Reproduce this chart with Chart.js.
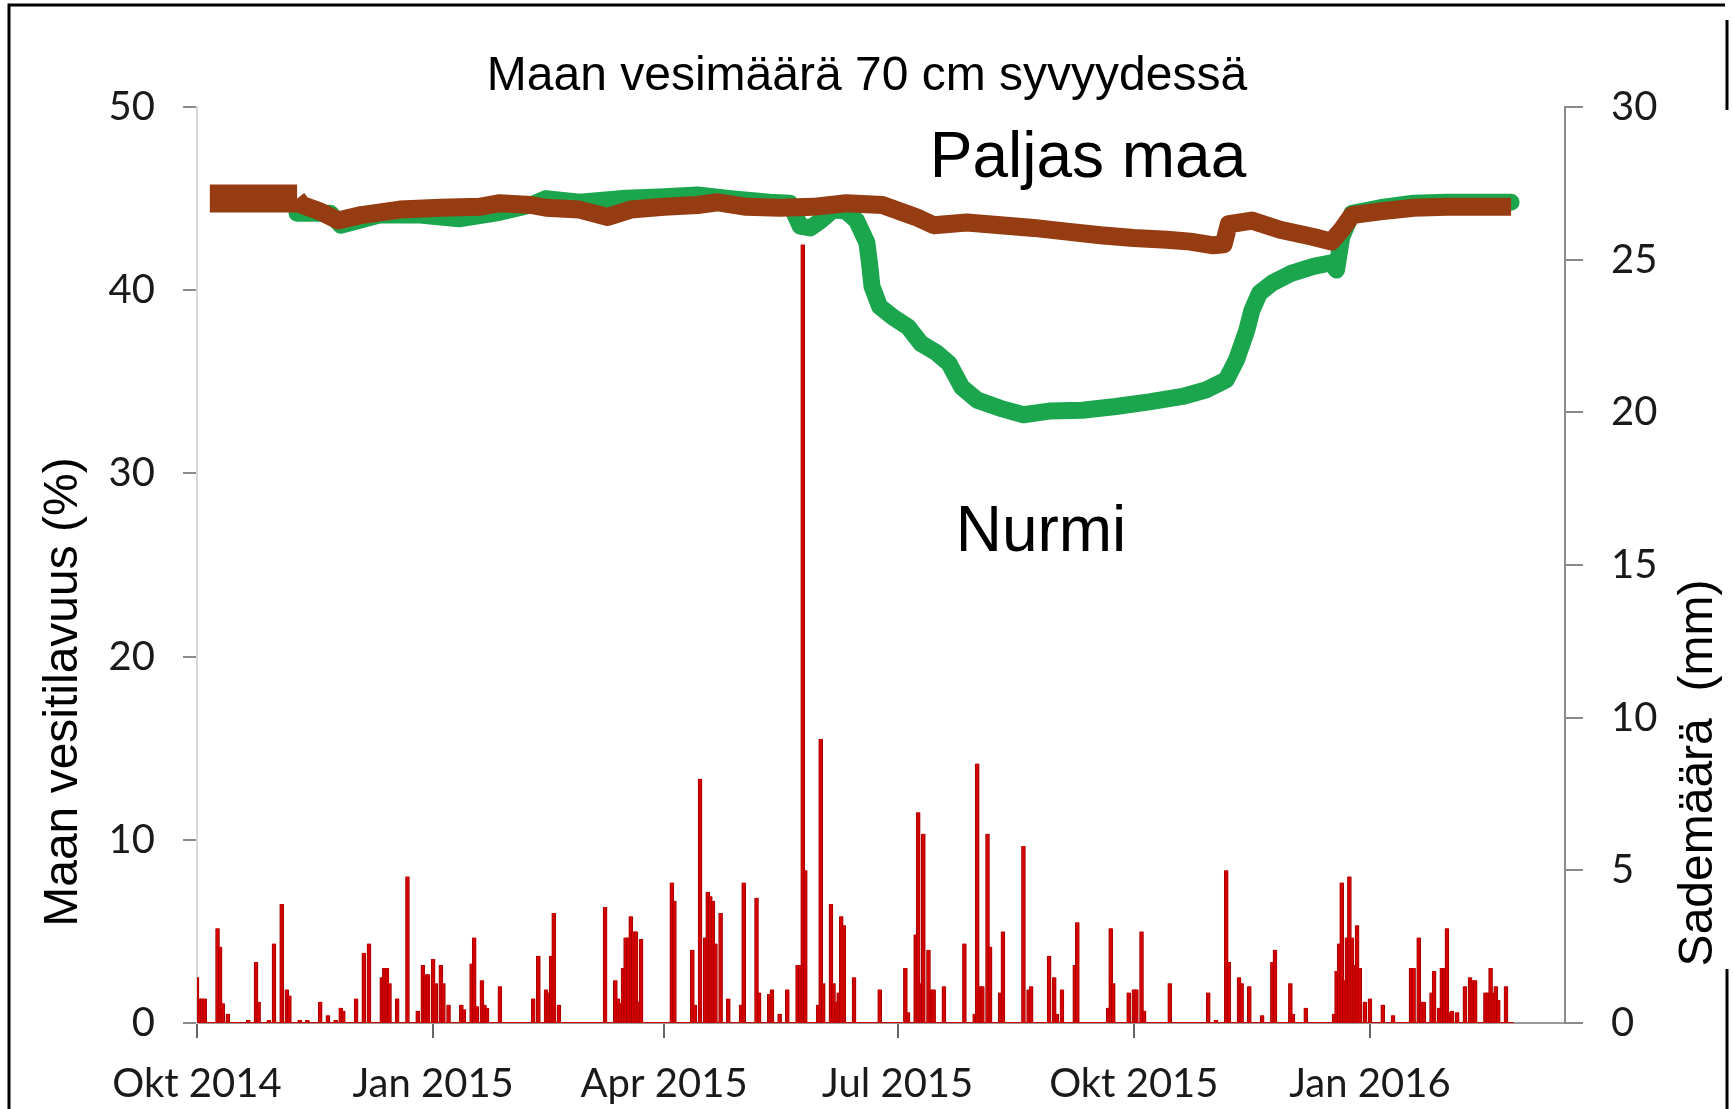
<!DOCTYPE html>
<html>
<head>
<meta charset="utf-8">
<script src="https://cdn.jsdelivr.net/npm/chart.js@4.4.1/dist/chart.umd.min.js"></script>
<style>
  html, body { margin: 0; padding: 0; background: #ffffff; }
  #wrap { width: 1733px; height: 1109px; position: relative; }
</style>
</head>
<body>
<div id="wrap"><canvas id="c" width="1733" height="1109"></canvas></div>
<script>
// x axis: days counted from 1 Oct 2014
const tickDays   = [0, 92, 182, 273, 365, 457];
const tickLabels = ['Okt 2014', 'Jan 2015', 'Apr 2015', 'Jul 2015', 'Okt 2015', 'Jan 2016'];

// Soil water content at 70 cm, bare soil (Paljas maa), %
const bareDays   = [5, 20, 39, 41, 48, 55, 64, 79, 95, 110, 118, 130, 136, 149, 160, 169, 182, 195, 203, 214, 227, 240, 253, 267, 280, 287, 300, 313, 326, 339, 352, 365, 378, 387, 396, 400, 402, 411, 422, 435, 442, 446, 450, 461, 474, 487, 500, 512];
const bareValues = [45.0, 45.0, 45.0, 44.65, 44.3, 43.8, 44.1, 44.4, 44.5, 44.55, 44.75, 44.65, 44.5, 44.4, 44.0, 44.4, 44.55, 44.65, 44.8, 44.55, 44.5, 44.55, 44.75, 44.65, 44.0, 43.55, 43.7, 43.55, 43.4, 43.2, 43.0, 42.85, 42.75, 42.65, 42.45, 42.5, 43.6, 43.8, 43.3, 42.9, 42.65, 43.3, 44.1, 44.3, 44.5, 44.55, 44.55, 44.55];

// Soil water content at 70 cm, grass (Nurmi), %
const grassDays   = [39, 52, 56, 71, 87, 102, 118, 130, 136, 149, 165, 182, 195, 208, 223, 231, 235, 239, 243, 248, 253, 257, 258, 261, 262, 263, 266, 271, 277, 282, 288, 293, 298, 304, 313, 322, 332, 345, 358, 371, 384, 393, 401, 405, 409, 411, 414, 419, 426, 435, 442, 444, 446, 450, 461, 474, 487, 500, 512];
const grassValues = [44.2, 44.2, 43.55, 44.1, 44.1, 43.9, 44.25, 44.65, 45.0, 44.8, 45.0, 45.1, 45.2, 45.0, 44.8, 44.75, 43.5, 43.4, 43.8, 44.4, 44.3, 43.8, 43.5, 42.6, 41.5, 40.2, 39.1, 38.55, 38.0, 37.1, 36.6, 36.0, 34.7, 34.0, 33.55, 33.2, 33.4, 33.45, 33.65, 33.9, 34.2, 34.55, 35.1, 36.2, 37.8, 38.9, 39.85, 40.4, 40.9, 41.3, 41.5, 41.1, 42.9, 44.2, 44.5, 44.75, 44.8, 44.8, 44.8];

// Daily precipitation, mm
const rainDays = [0, 1, 2, 3, 8, 9, 10, 12, 20, 23, 24, 28, 30, 33, 35, 36, 40, 43, 48, 51, 54, 56, 57, 62, 65, 67, 72, 73, 74, 75, 78, 82, 86, 88, 89, 90, 92, 93, 95, 96, 98, 103, 104, 107, 108, 109, 111, 112, 113, 118, 131, 133, 136, 137, 138, 139, 141, 159, 163, 164, 165, 166, 167, 168, 169, 170, 171, 172, 173, 185, 186, 193, 194, 196, 198, 199, 200, 201, 202, 204, 207, 212, 213, 218, 219, 223, 224, 227, 230, 234, 235, 236, 237, 242, 243, 244, 247, 248, 249, 250, 251, 252, 256, 266, 276, 277, 280, 281, 282, 283, 285, 286, 287, 291, 299, 303, 304, 305, 306, 308, 309, 313, 314, 322, 324, 325, 332, 334, 335, 337, 342, 343, 355, 356, 357, 363, 365, 366, 368, 369, 379, 394, 397, 401, 402, 406, 407, 410, 415, 419, 420, 426, 427, 432, 443, 444, 445, 446, 447, 448, 449, 450, 451, 452, 453, 455, 457, 462, 466, 473, 474, 476, 477, 478, 481, 482, 484, 485, 486, 487, 488, 489, 491, 494, 496, 497, 498, 502, 503, 504, 505, 506, 507, 510];
const rainMm   = [1.5, 0.8, 0.8, 0.8, 3.1, 2.5, 0.65, 0.3, 0.1, 2.0, 0.7, 0.1, 2.6, 3.9, 1.1, 0.9, 0.1, 0.1, 0.7, 0.25, 0.1, 0.5, 0.4, 0.8, 2.3, 2.6, 1.5, 1.8, 1.8, 1.3, 0.8, 4.8, 0.4, 1.9, 1.6, 1.6, 2.1, 1.3, 1.9, 1.3, 0.6, 0.6, 0.45, 1.95, 2.8, 0.55, 1.4, 0.6, 0.5, 1.2, 0.8, 2.2, 1.1, 1.0, 2.2, 3.6, 0.6, 3.8, 1.4, 0.8, 0.65, 1.8, 2.8, 2.8, 3.5, 3.0, 3.0, 0.7, 2.75, 4.6, 4.0, 2.4, 0.6, 8.0, 2.8, 4.3, 4.15, 4.0, 2.6, 3.6, 0.8, 0.6, 4.6, 4.1, 1.0, 0.95, 1.1, 0.3, 1.1, 1.9, 1.9, 25.5, 5.0, 0.6, 9.3, 1.3, 3.9, 1.3, 0.7, 1.0, 3.5, 3.2, 1.5, 1.1, 1.8, 0.35, 2.9, 6.9, 1.3, 6.2, 2.4, 1.1, 1.1, 1.2, 2.6, 0.3, 8.5, 1.2, 1.2, 6.2, 2.5, 1.0, 3.0, 5.8, 1.1, 1.2, 2.2, 1.5, 0.3, 1.1, 1.9, 3.3, 0.5, 3.1, 1.3, 1.0, 1.1, 1.1, 3.0, 0.4, 1.3, 1.0, 0.1, 5.0, 2.0, 1.5, 1.3, 1.2, 0.25, 2.0, 2.4, 1.3, 0.3, 0.5, 0.3, 1.7, 2.6, 4.6, 1.4, 2.8, 4.8, 2.8, 1.9, 3.2, 1.8, 0.7, 0.8, 0.6, 0.25, 1.8, 1.8, 2.8, 0.7, 0.7, 1.0, 1.7, 0.5, 1.8, 1.8, 3.1, 0.35, 0.4, 0.35, 1.2, 1.5, 1.4, 1.4, 1.0, 1.0, 1.8, 1.0, 1.2, 0.75, 1.2];
const rainSpan = [0, 513];

// First weeks of the bare-soil record scatter more widely
const bareWideUntil = 39;

const pts = (xs, ys) => xs.map((x, i) => ({ x: x, y: ys[i] }));

const TICK_FONT = { family: 'Lato', size: 40 };
const ARIAL = '"Liberation Sans", Arial, sans-serif';

const textLayer = {
  id: 'textLayer',
  afterDraw(chart) {
    const ctx = chart.ctx;
    ctx.save();
    ctx.fillStyle = '#000000';
    ctx.textAlign = 'center';
    ctx.textBaseline = 'alphabetic';
    ctx.font = '48px ' + ARIAL;
    ctx.fillText('Maan vesimäärä 70 cm syvyydessä', 867, 90);
    ctx.font = '64px ' + ARIAL;
    ctx.fillText('Paljas maa', 1088, 177);
    ctx.fillText('Nurmi', 1041, 551);

    ctx.font = '48px ' + ARIAL;
    ctx.textBaseline = 'middle';
    ctx.save();
    ctx.translate(64, 692);
    ctx.rotate(-Math.PI / 2);
    ctx.fillText('Maan vesitilavuus (%)', 0, 0);
    ctx.restore();
    ctx.save();
    ctx.translate(1699, 773);
    ctx.rotate(-Math.PI / 2);
    ctx.fillText('Sademäärä  (mm)', 0, 0);
    ctx.restore();

    // outer frame
    ctx.strokeStyle = '#000000';
    ctx.lineWidth = 3;
    ctx.beginPath();
    ctx.moveTo(9, 1109);
    ctx.lineTo(9, 5);
    ctx.lineTo(1725, 5);
    ctx.moveTo(1727, 20);
    ctx.lineTo(1727, 110);
    ctx.moveTo(1727, 969);
    ctx.lineTo(1727, 1109);
    ctx.stroke();
    ctx.restore();
  }
};

new Chart(document.getElementById('c'), {
  type: 'bar',
  data: {
    datasets: [
      {
        type: 'line',
        label: 'Paljas maa',
        data: pts(bareDays, bareValues),
        yAxisID: 'y',
        borderColor: '#963c12',
        borderWidth: 18,
        segment: { borderWidth: c => (c.p1.parsed.x <= bareWideUntil ? 28 : 18) },
        borderJoinStyle: 'round',
        borderCapStyle: 'butt',
        pointRadius: 0,
        tension: 0,
        order: 0
      },
      {
        type: 'line',
        label: 'Nurmi',
        data: pts(grassDays, grassValues),
        yAxisID: 'y',
        borderColor: '#1ba64e',
        borderWidth: 17,
        borderJoinStyle: 'round',
        borderCapStyle: 'round',
        pointRadius: 0,
        tension: 0,
        order: 1
      },
      {
        type: 'bar',
        label: 'Sademäärä',
        data: pts(rainDays, rainMm),
        yAxisID: 'y2',
        backgroundColor: '#d60000',
        borderColor: '#a40000',
        borderWidth: { left: 1, right: 1, top: 0, bottom: 0 },
        barThickness: 4,
        order: 2
      },
      {
        type: 'line',
        label: 'baseline',
        data: pts(rainSpan, [0, 0]),
        yAxisID: 'y2',
        borderColor: '#d20000',
        borderWidth: 2,
        pointRadius: 0,
        order: 3
      }
    ]
  },
  options: {
    responsive: false,
    animation: false,
    layout: { padding: { top: 107, left: 0, right: 0, bottom: 0 } },
    plugins: { legend: { display: false }, tooltip: { enabled: false }, title: { display: false } },
    scales: {
      x: {
        type: 'linear',
        position: 'bottom',
        min: 0,
        max: 533,
        offset: false,
        afterBuildTicks: s => { s.ticks = tickDays.map(v => ({ value: v })); },
        afterFit: s => { s.height = 86; },
        ticks: {
          callback: (v, i) => tickLabels[i],
          font: TICK_FONT,
          color: '#1a1a1a',
          padding: 22,
          maxRotation: 0,
          autoSkip: false
        },
        grid: { drawOnChartArea: false, offset: false, tickLength: 15, color: '#666666', lineWidth: 2 },
        border: { color: '#9a9a9a', width: 2 }
      },
      y: {
        type: 'linear',
        position: 'left',
        min: 0,
        max: 50,
        afterFit: s => { s.width = 197; },
        ticks: { stepSize: 10, font: TICK_FONT, color: '#1a1a1a', padding: 28 },
        grid: { drawOnChartArea: false, tickLength: 14, color: '#8a8a8a', lineWidth: 2 },
        border: { color: '#d8d8d8', width: 2 }
      },
      y2: {
        type: 'linear',
        position: 'right',
        min: 0,
        max: 30,
        afterFit: s => { s.width = 168; },
        ticks: { stepSize: 5, font: TICK_FONT, color: '#1a1a1a', padding: 28 },
        grid: { drawOnChartArea: false, tickLength: 18, color: '#8a8a8a', lineWidth: 2 },
        border: { color: '#8a8a8a', width: 2 }
      }
    }
  },
  plugins: [textLayer]
});
</script>
</body>
</html>
